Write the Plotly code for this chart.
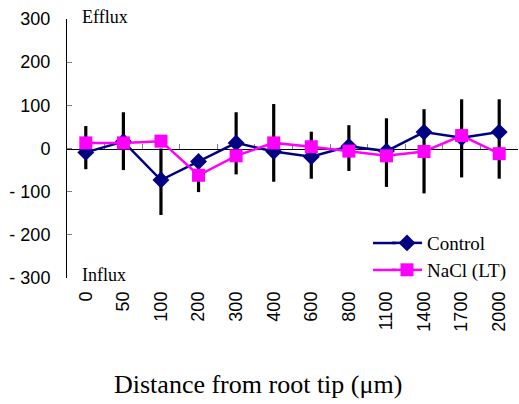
import plotly.graph_objects as go

categories = ["0", "50", "100", "200", "300", "400", "600", "800", "1100", "1400", "1700", "2000"]
control = [-9, 16, -73, -30, 13, -7, -19, 5, -6, 38, 25, 38]
nacl = [13, 13, 17, -62, -17, 13, 4, -6, -17, -7, 30, -12]
err_hi = [52, 84, 0, -25, 84, 103, 39, 54, 70, 91, 114, 114]
err_lo = [-48, -50, -154, -101, -60, -77, -70, -52, -89, -104, -67, -70]
y_ticks = [300, 200, 100, 0, -100, -200, -300]
y_ticktext = ["300", "200", "100", "0", "- 100", "- 200", "- 300"]

SERIF = "Liberation Serif, Times New Roman, serif"
SANS = "Liberation Sans, Arial, sans-serif"
NAVY = "#000080"
MAGENTA = "#FF00FF"

fig = go.Figure()

# invisible trace that carries the category tick labels on the bottom axis
fig.add_trace(go.Scatter(
    x=categories, y=control, xaxis="x", yaxis="y", mode="markers",
    marker=dict(size=1, color="rgba(0,0,0,0)"),
    showlegend=False, hoverinfo="skip"))

fig.add_trace(go.Scatter(
    x=categories, y=control, xaxis="x2", yaxis="y", mode="markers",
    marker=dict(size=1, color="rgba(0,0,0,0)"),
    error_y=dict(type="data", symmetric=False,
                 array=[h - c for h, c in zip(err_hi, control)],
                 arrayminus=[c - l for l, c in zip(err_lo, control)],
                 color="black", thickness=3.2, width=0),
    showlegend=False, hoverinfo="skip"))

fig.add_trace(go.Scatter(
    x=categories, y=control, xaxis="x2", yaxis="y", mode="lines+markers",
    name="Control", legend="legend",
    line=dict(color=NAVY, width=2.5),
    marker=dict(symbol="diamond", size=13, color=NAVY)))

fig.add_trace(go.Scatter(
    x=categories, y=nacl, xaxis="x2", yaxis="y", mode="lines+markers",
    name="NaCl (LT)", legend="legend2",
    line=dict(color=MAGENTA, width=2.5),
    marker=dict(symbol="square", size=13, color=MAGENTA)))

leg_x = 0.7095
fig.update_layout(
    width=519, height=404, autosize=False,
    margin=dict(l=67, r=1, t=19, b=126),
    paper_bgcolor="white", plot_bgcolor="white",
    xaxis=dict(
        type="category", categoryorder="array", categoryarray=categories,
        range=[-0.5, len(categories) - 0.5],
        tickangle=-90, showline=False, ticks="", showgrid=False, zeroline=False,
        tickfont=dict(family=SANS, size=18, color="black"),
        ticklabelstandoff=9),
    xaxis2=dict(
        type="category", categoryorder="array", categoryarray=categories,
        range=[-0.5, len(categories) - 0.5],
        overlaying="x", anchor="free", position=0.5, side="bottom",
        showline=True, linecolor="black", linewidth=1,
        ticks="inside", tickson="boundaries", ticklen=5, tickcolor="#808080",
        showticklabels=False, showgrid=False, zeroline=False, layer="below traces"),
    yaxis=dict(
        range=[-300, 300], tickmode="array", tickvals=y_ticks, ticktext=y_ticktext,
        showline=True, linecolor="black", linewidth=1,
        ticks="inside", ticklen=5, tickcolor="#808080",
        showgrid=False, zeroline=False,
        tickfont=dict(family=SANS, size=18, color="black"),
        ticklabelstandoff=12),
    legend=dict(x=leg_x, y=0.135, xanchor="left", yanchor="middle",
                bgcolor="rgba(0,0,0,0)", font=dict(family=SERIF, size=19, color="black")),
    legend2=dict(x=leg_x, y=0.031, xanchor="left", yanchor="middle",
                 bgcolor="rgba(0,0,0,0)", font=dict(family=SERIF, size=19, color="black")),
    shapes=[
        dict(type="line", xref="paper", yref="paper", x0=(373 - 67) / 451, x1=(396 - 67) / 451,
             y0=0.135, y1=0.135, line=dict(color=NAVY, width=2.5)),
        dict(type="line", xref="paper", yref="paper", x0=(373 - 67) / 451, x1=(396 - 67) / 451,
             y0=0.031, y1=0.031, line=dict(color=MAGENTA, width=2.5)),
    ],
    annotations=[
        dict(text="Efflux", xref="paper", yref="paper", x=0.0288, y=1.008,
             xanchor="left", yanchor="middle", showarrow=False,
             font=dict(family=SERIF, size=18, color="black")),
        dict(text="Influx", xref="paper", yref="paper", x=0.0288, y=0.0116,
             xanchor="left", yanchor="middle", showarrow=False,
             font=dict(family=SERIF, size=18, color="black")),
        dict(text="Distance from root tip (μm)", xref="paper", yref="paper",
             x=0.4235, y=-0.413, xanchor="center", yanchor="middle", showarrow=False,
             font=dict(family=SERIF, size=26, color="black")),
    ],
)

fig.write_html("out.html")
